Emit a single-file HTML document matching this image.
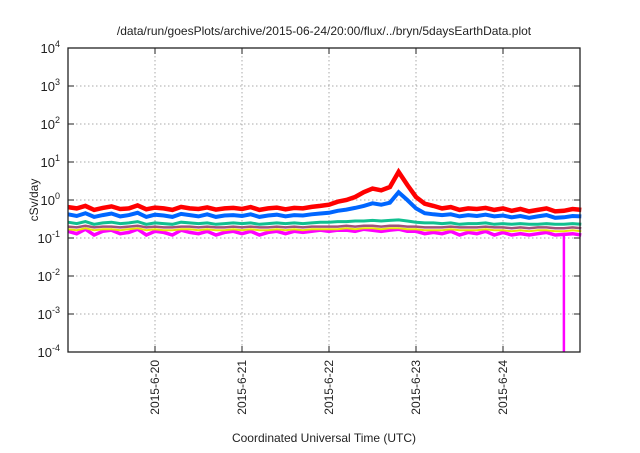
<!DOCTYPE html>
<html><head><meta charset="utf-8"><style>
body{margin:0;background:#fff;width:640px;height:448px;overflow:hidden;font-family:"Liberation Sans",sans-serif}
text{font-family:"Liberation Sans",sans-serif;fill:#222}
</style></head><body>
<svg id="chart" width="640" height="448" xmlns="http://www.w3.org/2000/svg">
<text x="324" y="35" font-size="12" text-anchor="middle">/data/run/goesPlots/archive/2015-06-24/20:00/flux/../bryn/5daysEarthData.plot</text>
<text transform="translate(38,200) rotate(-90)" font-size="12" text-anchor="middle">cSv/day</text>
<text x="324" y="442" font-size="12" text-anchor="middle">Coordinated Universal Time (UTC)</text>
<g id="grid"></g><g id="series"></g><g id="axes"></g>
</svg>
<script>
const dayLabels=["2015-6-20","2015-6-21","2015-6-22","2015-6-23","2015-6-24"];
const dayPositions=[1,2,3,4,5];
const yExps=[-4,-3,-2,-1,0,1,2,3,4];
const tStart=0, tStep=0.1;
const red=[0.65,0.6,0.7,0.55,0.62,0.68,0.58,0.6,0.72,0.57,0.63,0.6,0.55,0.66,0.6,0.58,0.64,0.56,0.6,0.62,0.58,0.65,0.55,0.6,0.63,0.57,0.62,0.6,0.66,0.7,0.75,0.9,1.0,1.2,1.6,2.0,1.8,2.2,5.5,2.5,1.2,0.8,0.7,0.6,0.65,0.55,0.6,0.58,0.62,0.55,0.6,0.52,0.58,0.5,0.55,0.6,0.5,0.52,0.58,0.55];
const blue=[0.42,0.38,0.45,0.36,0.4,0.44,0.37,0.4,0.46,0.36,0.41,0.39,0.36,0.43,0.4,0.37,0.42,0.36,0.39,0.4,0.38,0.42,0.36,0.39,0.41,0.37,0.4,0.39,0.42,0.44,0.46,0.52,0.56,0.62,0.7,0.82,0.75,0.85,1.6,1.0,0.6,0.45,0.42,0.4,0.42,0.37,0.4,0.38,0.41,0.37,0.39,0.35,0.38,0.34,0.37,0.4,0.34,0.35,0.38,0.37];
const green=[0.26,0.24,0.27,0.23,0.25,0.26,0.24,0.25,0.27,0.23,0.25,0.24,0.23,0.26,0.25,0.24,0.25,0.23,0.24,0.25,0.24,0.25,0.23,0.24,0.25,0.24,0.25,0.24,0.25,0.26,0.26,0.27,0.27,0.28,0.28,0.29,0.28,0.29,0.3,0.28,0.26,0.25,0.25,0.24,0.25,0.23,0.24,0.24,0.25,0.23,0.24,0.23,0.24,0.23,0.23,0.24,0.23,0.23,0.24,0.23];
const brown=[0.2,0.19,0.21,0.19,0.2,0.2,0.19,0.2,0.21,0.19,0.2,0.19,0.19,0.2,0.2,0.19,0.2,0.19,0.19,0.2,0.19,0.2,0.19,0.19,0.2,0.19,0.2,0.19,0.2,0.2,0.2,0.2,0.21,0.2,0.21,0.21,0.2,0.21,0.21,0.2,0.2,0.19,0.19,0.19,0.2,0.19,0.19,0.19,0.2,0.19,0.19,0.18,0.19,0.18,0.19,0.19,0.18,0.18,0.19,0.18];
const yellow=[0.17,0.16,0.18,0.16,0.17,0.17,0.16,0.17,0.18,0.16,0.17,0.16,0.16,0.17,0.17,0.16,0.17,0.16,0.16,0.17,0.16,0.17,0.16,0.16,0.17,0.16,0.17,0.16,0.17,0.17,0.17,0.17,0.18,0.17,0.18,0.18,0.17,0.18,0.18,0.17,0.17,0.16,0.16,0.16,0.17,0.16,0.16,0.16,0.17,0.16,0.16,0.15,0.16,0.15,0.16,0.16,0.15,0.15,0.16,0.15];
const magenta=[0.15,0.13,0.17,0.12,0.15,0.16,0.13,0.14,0.17,0.12,0.15,0.14,0.12,0.16,0.14,0.13,0.15,0.12,0.14,0.15,0.13,0.15,0.12,0.14,0.15,0.13,0.15,0.14,0.15,0.16,0.15,0.16,0.16,0.15,0.17,0.16,0.15,0.16,0.17,0.15,0.15,0.13,0.14,0.13,0.15,0.12,0.14,0.13,0.15,0.12,0.14,0.12,0.13,0.12,0.13,0.14,0.12,0.0001,0.13,0.12];
const L=68,R=580,T=48,B=352,dayPx=87;
const xS=t=>L+t*dayPx;
const yS=v=>T+(4-Math.log10(v))*(B-T)/8;
const NS="http://www.w3.org/2000/svg";
function mk(tag,attrs,parent){const e=document.createElementNS(NS,tag);for(const k in attrs)e.setAttribute(k,attrs[k]);parent.appendChild(e);return e;}
const grid=document.getElementById('grid'),axes=document.getElementById('axes'),ser=document.getElementById('series');
yExps.forEach(p=>{const y=yS(Math.pow(10,p));
 if(p>-4&&p<4){const g=mk('line',{x1:L,x2:R,y1:y,y2:y,stroke:'#aaa','stroke-dasharray':'1.5,2.5','stroke-width':1},grid);
 
 }
 const tk=mk('path',{d:`M${L},${y}h6M${R},${y}h-6`,stroke:'#222','stroke-width':1},axes);
 
 
 const tx=mk('text',{x:L-8,y:y+5,'font-size':13,'text-anchor':'end'},axes);
 
 
 tx.textContent='10';
 const sp=mk('tspan',{dy:-6,'font-size':9},tx);sp.textContent=String(p);
});
dayPositions.forEach((d,i)=>{const x=xS(d);
 const g=mk('line',{x1:x,x2:x,y1:T,y2:B,stroke:'#aaa','stroke-dasharray':'1.5,2.5','stroke-width':1},grid);
 
 
 const tk=mk('path',{d:`M${x},${B}v-6M${x},${T}v6`,stroke:'#222'},axes);
 
 
 const tx=mk('text',{transform:`translate(${x+4},${B+8}) rotate(-90)`,'font-size':12,'text-anchor':'end'},axes);
 
 
 tx.textContent=dayLabels[i];
});
const fr=mk('rect',{x:L,y:T,width:R-L,height:B-T,fill:'none',stroke:'#222','stroke-width':1.3},axes);


const seriesList=[["magenta-series",magenta,"#ff00ff",3.5],["yellow-series",yellow,"#e6e600",2],["brown-series",brown,"#a0527a",2.5],["green-series",green,"#10c090",3],["blue-series",blue,"#0066ff",4],["red-series",red,"#ff0000",4.5]];
seriesList.forEach(([n,arr,c,w])=>{
 let d='';let prevY=null;let spikes='';
 arr.forEach((v,i)=>{const x=xS(tStart+i*tStep).toFixed(1);
  if(v<1e-3){spikes+=`M${x},${prevY!==null?prevY:yS(0.15)}V${Math.min(B,yS(v)).toFixed(1)}`;return;}
  const y=yS(v).toFixed(1);d+=(d?'L':'M')+x+','+y;prevY=y;});
 const p=mk('path',{d:d,fill:'none',stroke:c,'stroke-width':w,'stroke-linejoin':'miter'},ser);
 
 
 if(spikes){const s=mk('path',{d:spikes,fill:'none',stroke:c,'stroke-width':2.5},ser);
 
 }
});
</script>
</body></html>
